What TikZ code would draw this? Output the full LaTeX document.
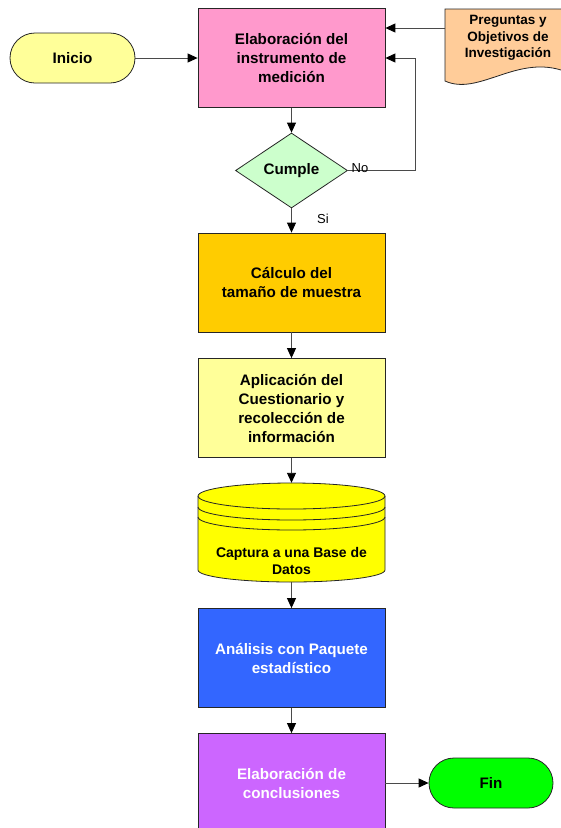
\documentclass[tikz,border=0pt]{standalone}
\usepackage{fontspec}
\setmainfont{Liberation Sans}
\usetikzlibrary{shapes.geometric,arrows.meta}
\definecolor{cPink}{HTML}{FF99CC}
\definecolor{cMint}{HTML}{CCFFCC}
\definecolor{cOrange}{HTML}{FFCC00}
\definecolor{cPale}{HTML}{FFFF99}
\definecolor{cYellow}{HTML}{FFFF00}
\definecolor{cBlue}{HTML}{3366FF}
\definecolor{cViolet}{HTML}{CC66FF}
\definecolor{cGreen}{HTML}{00FF00}
\definecolor{cPeach}{HTML}{FFCC99}
\definecolor{cLine}{HTML}{262626}
\definecolor{cWire}{HTML}{4A4A4A}
\begin{document}
\begin{tikzpicture}[x=1pt,y=-1pt,
  box/.style={draw=cLine, line width=0.8pt, minimum width=187pt, minimum height=99pt,
    inner sep=0pt, align=center, font=\fontsize{15.2}{19}\selectfont\bfseries},
  term/.style={draw=cLine, line width=0.8pt, rounded corners=25pt, minimum height=50pt,
    inner sep=0pt, font=\fontsize{15.2}{19}\selectfont\bfseries},
  arr/.style={draw=cWire, line width=0.9pt, -{Triangle[length=10pt,width=9pt,color=black]}},
  lbl/.style={font=\fontsize{13}{15}\selectfont, inner sep=0pt}]
\useasboundingbox (0,0) rectangle (561,828);
\clip (0,0) rectangle (561,828);
\fill[white] (0,0) rectangle (561,828);

% process boxes
\node[box, fill=cPink] (pink) at (291.5,58) {Elaboración del\\instrumento de\\medición};
\node[draw=cLine, line width=0.8pt, fill=cMint, diamond, minimum width=112pt, minimum height=75pt,
  inner sep=0pt, font=\fontsize{15.2}{19}\selectfont\bfseries] (dec) at (291.5,170.5) {Cumple};
\node[box, fill=cOrange] (calc) at (291.5,282.5) {Cálculo del\\tamaño de muestra};
\node[box, fill=cPale] (apl) at (291.5,408) {Aplicación del\\Cuestionario y\\recolección de\\información};
\node[box, fill=cBlue, text=white] (anal) at (291.5,658) {Análisis con Paquete\\estadístico};
\node[box, fill=cViolet, text=white] (concl) at (291.5,783) {Elaboración de\\conclusiones};

% terminals
\node[term, fill=cPale, minimum width=125pt] (ini) at (72.5,58) {Inicio};
\node[term, fill=cGreen, minimum width=124pt] (fin) at (491,783) {Fin};

% database cylinder
\fill[cYellow] (198,496) -- (198,570)
  arc[start angle=180, end angle=360, x radius=93.5pt, y radius=12pt]
  -- (385,496) arc[start angle=0, end angle=180, x radius=93.5pt, y radius=13pt] -- cycle;
\draw[cLine, line width=0.8pt] (291.5,496) ellipse [x radius=93.5pt, y radius=13pt];
\draw[cLine, line width=0.8pt] (198,496) -- (198,570)
  arc[start angle=180, end angle=360, x radius=93.5pt, y radius=12pt] -- (385,496);
\draw[cLine, line width=0.8pt] (198,507) arc[start angle=180, end angle=360, x radius=93.5pt, y radius=13pt];
\draw[cLine, line width=0.8pt] (198,517) arc[start angle=180, end angle=360, x radius=93.5pt, y radius=13pt];
\node[minimum width=187pt, minimum height=99pt, inner sep=0pt] (db) at (291.5,532.5) {};
\node[align=center, inner sep=0pt, font=\fontsize{14}{17}\selectfont\bfseries] (dbtxt) at (291.5,561) {Captura a una Base de\\Datos};

% document shape
\filldraw[fill=cPeach, draw=cLine, line width=0.8pt] (445,9) -- (445,81)
  .. controls (478,96) and (515,56) .. (561,70) -- (580,73) -- (580,9) -- cycle;
\node[align=center, inner sep=0pt, font=\fontsize{13.5}{16.5}\selectfont\bfseries] (preg) at (508,38)
  {Preguntas y\\Objetivos de\\Investigación};
\coordinate (pregout) at (445,28);

% connectors
\draw[arr] (ini.east) -- (pink.west);
\draw[arr] (pregout) -- (pink.east |- pregout);
\draw[arr] (pink.south) -- (dec.north);
\draw[arr] (dec.east) -- ++(68,0) |- (pink.east);
\draw[arr] (dec.south) -- (calc.north);
\draw[arr] (calc.south) -- (apl.north);
\draw[arr] (apl.south) -- (db.north);
\draw[arr] (db.south) -- (anal.north);
\draw[arr] (anal.south) -- (concl.north);
\draw[arr] (concl.east) -- (fin.west);

% branch labels
\node[lbl] (no) at (360,168.5) {No};
\node[lbl] (si) at (323,219) {Si};
\end{tikzpicture}
\end{document}
